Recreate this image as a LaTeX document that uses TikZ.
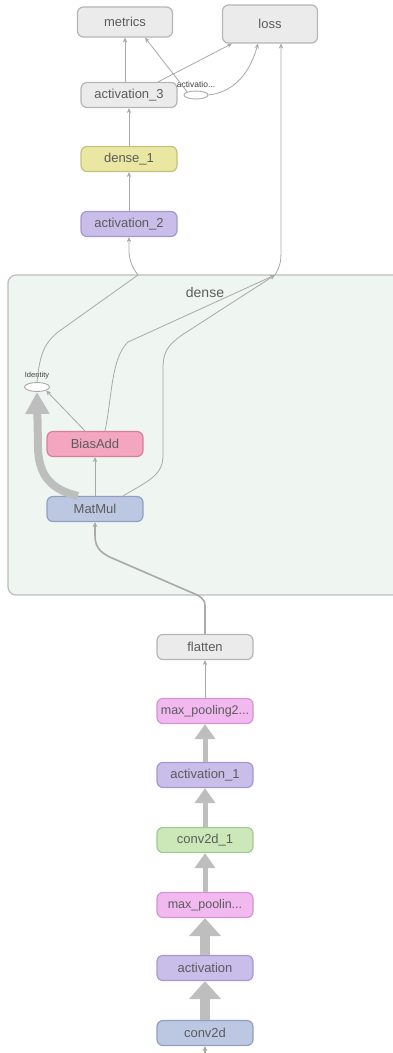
\documentclass[tikz,border=0pt]{standalone}
\usepackage{fontspec}
\setmainfont{Liberation Sans}
\usetikzlibrary{arrows.meta,shapes.geometric}

\definecolor{txt}{HTML}{5C5C5C}
\definecolor{edgegray}{HTML}{A9A9A9}
\definecolor{flowgray}{HTML}{BEBEBE}
\definecolor{greyfill}{HTML}{EBEBEB}
\definecolor{greyline}{HTML}{B5B5B5}
\definecolor{yellowfill}{HTML}{E9E7A2}
\definecolor{yellowline}{HTML}{C4C17C}
\definecolor{purplefill}{HTML}{C9BDEA}
\definecolor{purpleline}{HTML}{A598D1}
\definecolor{pinkfill}{HTML}{F4A5BF}
\definecolor{pinkline}{HTML}{D7809C}
\definecolor{bluefill}{HTML}{BCC7E2}
\definecolor{blueline}{HTML}{929FC2}
\definecolor{magentafill}{HTML}{F2B8F0}
\definecolor{magentaline}{HTML}{D394D0}
\definecolor{greenfill}{HTML}{CCE8B9}
\definecolor{greenline}{HTML}{A3C992}
\definecolor{groupfill}{HTML}{EFF5F1}
\definecolor{groupline}{HTML}{BDBDBD}

\begin{document}
\begin{tikzpicture}[x=1pt,y=-1pt]
        \useasboundingbox (0,0) rectangle (393,1053);
        \tikzstyle{op} = [rectangle, rounded corners=6pt, draw, line width=1.2pt, minimum width=96pt, minimum height=25pt, inner sep=1pt, text=txt, font=\fontsize{13}{15}\selectfont]
        \tikzstyle{greyop} = [op, fill=greyfill, draw=greyline]
        \tikzstyle{actop} = [op, fill=purplefill, draw=purpleline]
        \tikzstyle{poolop} = [op, fill=magentafill, draw=magentaline, font=\fontsize{12.5}{14}\selectfont]
        \tikzstyle{small} = [text=black!75, font=\fontsize{8.5}{9}\selectfont, inner sep=0pt]
        \tikzstyle{edge} = [draw=edgegray, line width=0.8pt, -{Stealth[length=5pt,width=4.5pt]}]
        \tikzstyle{midedge} = [draw=edgegray, line width=1.6pt, -{Stealth[length=5pt,width=5pt]}]
        \tikzstyle{flow} = [draw=flowgray, line width=5pt, -{Triangle[width=20pt,length=15pt]}]
        \tikzstyle{bigflow} = [draw=flowgray, line width=10pt, -{Triangle[width=31pt,length=18pt]}]

        % dense group
        \node[rectangle, rounded corners=8pt, draw=groupline, fill=groupfill, line width=1.2pt, minimum width=400pt, minimum height=320pt] (dense) at (208,435) {};
        \node[text=txt, font=\fontsize{14}{16}\selectfont] (denselbl) at (205,292) {dense};
        \coordinate (outL) at (138,275);
        \coordinate (outR) at (275,275);

        % top
        \node[greyop, minimum width=95pt, minimum height=30pt] (metrics) at (125,22) {metrics};
        \node[greyop, minimum width=95pt, minimum height=38pt] (loss) at (270,24) {loss};
        \node[greyop] (act3) at (129,95) {activation\_3};
        \node[ellipse, draw=edgegray, fill=white, line width=0.9pt, minimum width=24pt, minimum height=8pt, inner sep=0pt] (act3ell) at (196,95) {};
        \node[small] (act3lbl) at (196,84) {activatio...};
        \node[op, fill=yellowfill, draw=yellowline] (dense1) at (129,159) {dense\_1};
        \node[actop] (act2) at (129,224) {activation\_2};

        % inside dense
        \node[ellipse, draw=edgegray, fill=white, line width=0.9pt, minimum width=25pt, minimum height=9pt, inner sep=0pt] (ident) at (37,387) {};
        \node[small, font=\fontsize{7.5}{8}\selectfont] (identlbl) at (37,376) {Identity};
        \node[op, fill=pinkfill, draw=pinkline] (bias) at (95,444) {BiasAdd};
        \node[op, fill=bluefill, draw=blueline] (matmul) at (95,509) {MatMul};

        % bottom
        \node[greyop] (flatten) at (205,647) {flatten};
        \node[poolop] (maxpool2) at (205,711) {max\_pooling2...};
        \node[actop] (act1) at (205,775) {activation\_1};
        \node[op, fill=greenfill, draw=greenline] (conv1) at (205,840) {conv2d\_1};
        \node[poolop] (maxpool1) at (205,905) {max\_poolin...};
        \node[actop] (act0) at (205,968) {activation};
        \node[op, fill=bluefill, draw=blueline] (conv0) at (205,1033) {conv2d};
        \coordinate (inp) at (205,1060);

        % top edges
        \draw[edge] ([xshift=-4pt]act3.north) -- (metrics.south);
        \draw[edge] (act3ell.north west) -- ([xshift=20pt]metrics.south);
        \draw[edge] ([xshift=29pt]act3.north) -- ([xshift=-38pt]loss.south);
        \draw[edge] (act3ell.east) .. controls (235,92) and (250,72) .. ([xshift=-12pt]loss.south);
        \draw[edge] (outR) .. controls (281,264) .. (281,242) -- ([xshift=11pt]loss.south);
        \foreach \from/\to in {act2/dense1, dense1/act3}
            \draw[edge] (\from) -- (\to);

        % dense edges
        \draw[edge] (ident.north) .. controls (40,352) and (45,343) .. (58,332) -- (outL) .. controls (131,266) and (129,258) .. (129,250) -- (act2.south);
        \draw[edge] ([xshift=10pt]bias.north) .. controls (112,398) and (111,358) .. (128,342) -- (outR);
        \draw[edge] ([xshift=28pt]matmul.north) .. controls (150,480) and (163,475) .. (163,455) -- (163,368) .. controls (163,352) and (168,345) .. (182,335) -- (outR);
        \draw[edge] ([xshift=-10pt]bias.north) -- (ident.south east);
        \draw[edge] (matmul) -- (bias);
        \draw[draw=flowgray, line width=8pt, -{Triangle[width=23pt,length=22pt]}] ([xshift=-17pt]matmul.north) .. controls (52,490) and (38,476) .. (38,446) -- (ident.south);
        \draw[midedge] (flatten.north) -- (205,606) .. controls (205,598) and (200,596) .. (188,591) -- (112,558) .. controls (98,552) and (95,545) .. (95,535) -- (matmul.south);

        % bottom edges
        \draw[edge] (maxpool2) -- (flatten);
        \foreach \from/\to in {act1/maxpool2, conv1/act1, maxpool1/conv1}
            \draw[flow] (\from) -- (\to);
        \foreach \from/\to in {act0/maxpool1, conv0/act0}
            \draw[bigflow] (\from) -- (\to);
        \draw[midedge] (inp) -- (conv0);
\end{tikzpicture}
\end{document}
